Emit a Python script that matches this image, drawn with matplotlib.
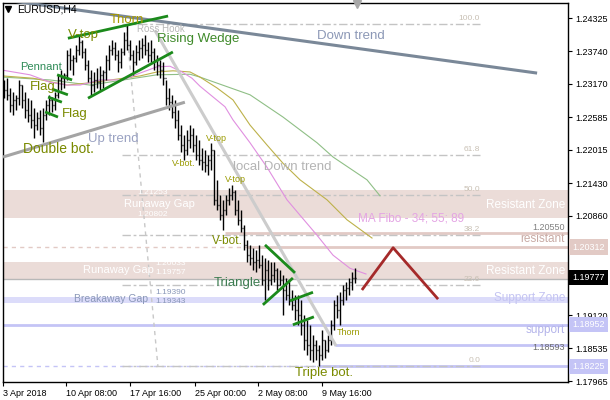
import matplotlib
matplotlib.use("Agg")
import matplotlib.pyplot as plt
import numpy as np

plt.rcParams['font.family'] = ['Liberation Sans', 'DejaVu Sans']

# ---------------- data (EURUSD H4) ----------------
highs = [1.2324, 1.2327, 1.2310, 1.2303, 1.2298, 1.2324, 1.2315, 1.2303, 1.2292, 1.2289,
         1.2275, 1.2268, 1.2271, 1.2275, 1.2289, 1.2298, 1.2294, 1.2303, 1.2333, 1.2341,
         1.2336, 1.2376, 1.2380, 1.2368, 1.2385, 1.2403, 1.2394, 1.2380, 1.2359, 1.2341,
         1.2338, 1.2345, 1.2348, 1.2341, 1.2368, 1.2385, 1.2394, 1.2390, 1.2376, 1.2380,
         1.2408, 1.2422, 1.2394, 1.2376, 1.2385, 1.2394, 1.2397, 1.2403, 1.2390, 1.2394,
         1.2380, 1.2368, 1.2359, 1.2355, 1.2324, 1.2310, 1.2298, 1.2289, 1.2271, 1.2245,
         1.2228, 1.2236, 1.2245, 1.2240, 1.2228, 1.2219, 1.2205, 1.2201, 1.2192, 1.2214,
         1.2201, 1.2149, 1.2122, 1.2114, 1.2122, 1.2135, 1.2140, 1.2131, 1.2114, 1.2096,
         1.2070, 1.2044, 1.2035, 1.2030, 1.2026, 1.2035, 1.2017, 1.2012, 1.2009, 1.2005,
         1.2005, 1.1994, 1.1991, 1.1982, 1.1977, 1.1973, 1.1956, 1.1947, 1.1947, 1.1938,
         1.1912, 1.1903, 1.1895, 1.1877, 1.1868, 1.1860, 1.1886, 1.1868, 1.1877, 1.1903,
         1.1938, 1.1947, 1.1952, 1.1965, 1.1970, 1.1977, 1.1987, 1.1994]
lows = [1.2292, 1.2289, 1.2268, 1.2262, 1.2271, 1.2280, 1.2275, 1.2257, 1.2250, 1.2240,
        1.2222, 1.2236, 1.2228, 1.2215, 1.2254, 1.2262, 1.2268, 1.2271, 1.2292, 1.2306,
        1.2310, 1.2324, 1.2341, 1.2333, 1.2355, 1.2368, 1.2362, 1.2341, 1.2320, 1.2298,
        1.2303, 1.2310, 1.2306, 1.2310, 1.2324, 1.2341, 1.2368, 1.2359, 1.2338, 1.2345,
        1.2368, 1.2376, 1.2359, 1.2333, 1.2350, 1.2359, 1.2362, 1.2368, 1.2355, 1.2355,
        1.2341, 1.2333, 1.2327, 1.2315, 1.2280, 1.2271, 1.2257, 1.2240, 1.2219, 1.2198,
        1.2184, 1.2192, 1.2205, 1.2198, 1.2184, 1.2175, 1.2166, 1.2163, 1.2157, 1.2166,
        1.2105, 1.2096, 1.2079, 1.2061, 1.2087, 1.2105, 1.2114, 1.2087, 1.2070, 1.2058,
        1.2026, 1.2005, 1.2000, 1.1991, 1.1987, 1.1994, 1.1965, 1.1938, 1.1956, 1.1965,
        1.1970, 1.1956, 1.1965, 1.1912, 1.1938, 1.1930, 1.1921, 1.1903, 1.1895, 1.1877,
        1.1851, 1.1842, 1.1833, 1.1830, 1.1833, 1.18225, 1.1833, 1.1837, 1.1847, 1.1860,
        1.1886, 1.1907, 1.1895, 1.1930, 1.1938, 1.1947, 1.1956, 1.1968]
closes = [1.2306, 1.2298, 1.2280, 1.2289, 1.2292, 1.2315, 1.2289, 1.2271, 1.2262, 1.2254,
          1.2245, 1.2257, 1.2240, 1.2262, 1.2280, 1.2289, 1.2280, 1.2298, 1.2324, 1.2327,
          1.2333, 1.2368, 1.2359, 1.2362, 1.2376, 1.2390, 1.2373, 1.2350, 1.2327, 1.2315,
          1.2324, 1.2320, 1.2333, 1.2338, 1.2359, 1.2376, 1.2380, 1.2368, 1.2355, 1.2373,
          1.2394, 1.2385, 1.2368, 1.2355, 1.2373, 1.2380, 1.2385, 1.2376, 1.2368, 1.2373,
          1.2359, 1.2350, 1.2341, 1.2327, 1.2292, 1.2285, 1.2268, 1.2254, 1.2228, 1.2210,
          1.2201, 1.2219, 1.2228, 1.2210, 1.2192, 1.2184, 1.2180, 1.2175, 1.2184, 1.2201,
          1.2114, 1.2105, 1.2087, 1.2096, 1.2114, 1.2122, 1.2128, 1.2096, 1.2079, 1.2065,
          1.2035, 1.2017, 1.2012, 1.2005, 1.2009, 1.2000, 1.1973, 1.1991, 1.1973, 1.1982,
          1.1991, 1.1965, 1.1973, 1.1956, 1.1947, 1.1938, 1.1930, 1.1921, 1.1912, 1.1895,
          1.1868, 1.1860, 1.1851, 1.1860, 1.1851, 1.1842, 1.1868, 1.1851, 1.1868, 1.1895,
          1.1930, 1.1921, 1.1938, 1.1956, 1.1959, 1.1970, 1.1977, 1.19777]
first_open = 1.2315
opens = [first_open] + closes[:-1]

# moving averages (MA Fibo 34 / 55 / 89), read at sampled bars
ma34_x = [-0.33, 8.67, 15.33, 21, 25.33, 32, 39.67, 45.33, 51, 55.33, 59.33, 62.67, 65.33,
          73.67, 76.33, 82, 87.67, 94.33, 98.67, 104.33, 109.67, 115.33, 120.67]
ma34 = [1.2341, 1.2333, 1.2320, 1.2315, 1.2315, 1.2324, 1.2324, 1.2336, 1.2347, 1.2348, 1.2338,
        1.2327, 1.2313, 1.2277, 1.2254, 1.2214, 1.2171, 1.2114, 1.2087, 1.2052, 1.2017, 1.1994,
        1.1984]
ma55_x = [-0.33, 9.67, 21, 28.67, 45.33, 51, 56.33, 62, 65.33, 71, 76.33, 82, 87.67, 93,
          98.67, 107.67, 114.33, 122.67]
ma55 = [1.2331, 1.2327, 1.2315, 1.2319, 1.2331, 1.2338, 1.2340, 1.2338, 1.2329, 1.2310, 1.2289,
        1.2245, 1.2210, 1.2178, 1.2149, 1.2114, 1.2079, 1.2047]
ma89_x = [-0.33, 15.33, 28.67, 51, 62, 65.33, 82, 93, 104.33, 109.67, 121, 125.33]
ma89 = [1.2329, 1.2324, 1.2315, 1.2333, 1.2334, 1.2329, 1.2298, 1.2259, 1.2214, 1.2189,
        1.2149, 1.2121]

# drawn objects: (bar, price) anchors
down_trend = [(-1, 1.2465), (177.7, 1.2336)]
up_trend = [(-0.33, 1.2189), (60.3, 1.2285)]
local_down = [(50.3, 1.2411), (110.7, 1.1858)]
green_lines = [
    [(21.3, 1.2397), (54.7, 1.2436)],
    [(28.0, 1.2292), (56.3, 1.2373)],
    [(17.7, 1.2333), (22.7, 1.2324)],
    [(16.0, 1.2308), (21.3, 1.2298)],
    [(14.7, 1.2294), (19.3, 1.2285)],
    [(13.7, 1.2268), (18.0, 1.2259)],
    [(87.0, 1.2035), (97.0, 1.1986)],
    [(86.3, 1.1930), (96.3, 1.1977)],
    [(95.3, 1.1937), (103.0, 1.1952)],
    [(96.3, 1.1895), (103.3, 1.1909)],
]
projection = [(119.3, 1.1956), (129.7, 1.2030), (144.7, 1.1940)]

fib_high, fib_low = 1.2422, 1.18225
fib_anchor_x = [40.7, 51.3]
fib_ratios = [1.0, 0.618, 0.5, 0.382, 0.236, 0.0]
fib_labels = ['100.0', '61.8', '50.0', '38.2', '23.6', '0.0']

res_zone1 = (1.2083, 1.2132)
res_zone2 = (1.19757, 1.2005)
sup_zone = (1.1933, 1.1944)
lvl_20550 = 1.20550
lvl_20312 = 1.20312
lvl_18952 = 1.18952
lvl_18593 = 1.18593
lvl_18225 = 1.18225
last_price = 1.19777

yticks = [1.24325, 1.23740, 1.23170, 1.22585, 1.22015, 1.21430, 1.20860,
          1.19120, 1.18535, 1.17965]
xtick_pos = [-0.33, 20.67, 42, 63.67, 84.67, 106]
xtick_labels = ['3 Apr 2018', '10 Apr 08:00', '17 Apr 16:00', '25 Apr 00:00',
                '2 May 08:00', '9 May 16:00']

# ---------------- figure ----------------
fig = plt.figure(figsize=(6.1, 4.0), dpi=100)
ax = fig.add_axes([3 / 610, 18 / 400, 565 / 610, 379 / 400])
ax.set_xlim(-0.33, 188)
ax.set_ylim(1.17948, 1.24588)

ROSE = '#ebdcd8'
ROSE_LINE = '#e2cac5'
LAV = '#dcdcfa'
LAV_LINE = '#c4c4f6'

# zones
ax.axhspan(*res_zone1, color=ROSE, lw=0, zorder=0)
ax.axhspan(*res_zone2, color=ROSE, lw=0, zorder=0)
ax.axhspan(*sup_zone, color=LAV, lw=0, zorder=0)

# horizontal levels
ax.axhline(res_zone2[0], color='#b8b8b8', lw=1, zorder=1)
ax.hlines(lvl_20550, 73.7, 188, color=ROSE_LINE, lw=2, zorder=1)
ax.hlines(lvl_20312, -0.33, 81, color=ROSE_LINE, lw=1, linestyles=(0, (3, 3)), zorder=1)
ax.hlines(lvl_20312, 81, 188, color=ROSE_LINE, lw=2, zorder=1)
ax.axhline(lvl_18952, color=LAV_LINE, lw=2, zorder=1)
ax.hlines(lvl_18593, 110.3, 188, color=LAV_LINE, lw=2, zorder=1)
ax.hlines(lvl_18225, -0.33, 105, color=LAV_LINE, lw=1, linestyles=(0, (3, 3)), zorder=1)
ax.hlines(lvl_18225, 105, 188, color=LAV_LINE, lw=2, zorder=1)

# fibonacci
fx0, fx1 = 39.3, 158.7
for r, lab in zip(fib_ratios, fib_labels):
    lv = fib_low + r * (fib_high - fib_low)
    ax.hlines(lv, fx0, fx1, color='#c4c4c4', lw=1, linestyles=(0, (6, 2, 2, 2)), zorder=1)
    ax.annotate(lab, xy=(fx1, lv), xytext=(0, 4), textcoords='offset points',
                ha='right', va='center', fontsize=6, color='#c8c0b4', zorder=2)
ax.plot(fib_anchor_x, [fib_high, fib_low], color='#c8c8c8', lw=1,
        linestyle=(0, (3, 3)), zorder=1)

# moving averages
ax.plot(ma89_x, ma89, color='#8fbf86', lw=0.8, zorder=2)
ax.plot(ma55_x, ma55, color='#bdb14a', lw=0.8, zorder=2)
ax.plot(ma34_x, ma34, color='#e08fe0', lw=0.8, zorder=2)

# OHLC bars
xs = np.arange(len(highs))
ax.vlines(xs, lows, highs, color='black', lw=1, zorder=3)
ax.hlines(opens, xs - 0.45, xs, color='black', lw=1, zorder=3)
ax.hlines(closes, xs, xs + 0.45, color='black', lw=1, zorder=3)

# trend lines
def seg(pts, **kw):
    ax.plot([p[0] for p in pts], [p[1] for p in pts], solid_capstyle='butt', **kw)

seg(down_trend, color='#7a8898', lw=2.2, zorder=4)
seg(up_trend, color='#a4a4a4', lw=2.2, zorder=4)
seg(local_down, color='#cccccc', lw=2.2, zorder=4)
for g in green_lines:
    seg(g, color='#1b8a1b', lw=2, zorder=4)
seg(projection, color='#a52a2a', lw=2, zorder=4)

# ---------------- texts ----------------
OLIVE = '#7a8a00'
GOLD = '#a89a00'
GRN = '#3f8a2a'
SMALL = '#9a9a00'
tx = [
    ('Down trend', 104.3, 1.2401, '#8c98b6', 9.5),
    ('Up trend', 28.0, 1.2221, '#9aa2c2', 9.5),
    ('local Down trend', 76.3, 1.2172, '#b4b4b4', 9.5),
    ('MA Fibo - 34; 55; 89', 118.0, 1.2082, '#e4a4e4', 8.5),
    ('V-top', 21.3, 1.2403, OLIVE, 9.5),
    ('Thorn', 35.3, 1.2429, GOLD, 9.5),
    ('Ross Hook', 44.3, 1.2413, '#b8b8b8', 7),
    ('Rising Wedge', 51.0, 1.2396, GRN, 9.5),
    ('Pennant', 5.3, 1.2347, '#2e8b57', 8),
    ('Flag', 8.67, 1.2312, OLIVE, 9.5),
    ('Flag', 19.3, 1.2264, OLIVE, 9.5),
    ('Double bot.', 6.3, 1.2203, OLIVE, 10),
    ('V-bot.', 56.0, 1.2178, SMALL, 6.5),
    ('V-top', 67.3, 1.2222, SMALL, 6.5),
    ('V-top', 73.7, 1.2149, SMALL, 6.5),
    ('V-bot.', 69.3, 1.2042, OLIVE, 8.5),
    ('Triangle', 70.0, 1.1968, '#3c7c50', 9.5),
    ('Thorn', 111.0, 1.1881, SMALL, 6.5),
    ('Triple bot.', 97.0, 1.1811, OLIVE, 9.5),
]
for s, x, y, c, fs in tx:
    ax.text(x, y, s, color=c, fontsize=fs, ha='left', va='center', zorder=5)

# gap / zone labels
ax.text(63.7, 1.2107, 'Runaway Gap', color='white', fontsize=8, ha='right', va='center', zorder=5)
ax.text(44.3, 1.2126, '1.21253', color='white', fontsize=6, ha='left', va='center', zorder=5)
ax.text(44.3, 1.2089, '1.20802', color='white', fontsize=6, ha='left', va='center', zorder=5)
ax.text(50.0, 1.1991, 'Runaway Gap', color='white', fontsize=8, ha='right', va='center', zorder=5)
ax.text(50.6, 1.2002, '1.20033', color='white', fontsize=6, ha='left', va='center', zorder=5)
ax.text(50.6, 1.1986, '1.19757', color='white', fontsize=6, ha='left', va='center', zorder=5)
ax.text(48.0, 1.1941, 'Breakaway Gap', color='#8a98b8', fontsize=7.5, ha='right', va='center', zorder=5)
ax.text(50.6, 1.1952, '1.19390', color='#8a98b8', fontsize=6, ha='left', va='center', zorder=5)
ax.text(50.6, 1.1936, '1.19343', color='#8a98b8', fontsize=6, ha='left', va='center', zorder=5)
ax.text(187, 1.2105, 'Resistant Zone', color='white', fontsize=8.5, ha='right', va='center', zorder=5)
ax.text(187, 1.1989, 'Resistant Zone', color='white', fontsize=8.5, ha='right', va='center', zorder=5)
ax.text(187, 1.2045, 'resistant', color='#c8aaa4', fontsize=8.5, ha='right', va='center', zorder=5)
ax.text(187, 1.2065, '1.20550', color='#808080', fontsize=6.5, ha='right', va='center', zorder=5)
ax.text(187, 1.1942, 'Support Zone', color='#c4c4f2', fontsize=8.5, ha='right', va='center', zorder=5)
ax.text(187, 1.1886, 'support', color='#b4b4ea', fontsize=8.5, ha='right', va='center', zorder=5)
ax.text(187, 1.1856, '1.18593', color='#6c6c6c', fontsize=6.5, ha='right', va='center', zorder=5)

# header
ax.plot([0.0095], [0.984], marker='v', ms=4, color='black', transform=ax.transAxes,
        clip_on=False, zorder=6)
ax.text(0.025, 0.984, 'EURUSD,H4', transform=ax.transAxes, fontsize=7.5, color='black',
        ha='left', va='center', zorder=6)
ax.plot([0.626], [0.997], marker='v', ms=6, color='#a8a8a8', transform=ax.transAxes,
        clip_on=False, zorder=6)

# axes styling
for sp in ax.spines.values():
    sp.set_color('black')
    sp.set_linewidth(1)
ax.yaxis.tick_right()
ax.set_yticks(yticks)
ax.set_yticklabels([f'{v:.5f}' for v in yticks])
ax.tick_params(axis='y', labelsize=6.5, length=3, pad=2, colors='black')
ax.set_xticks(xtick_pos)
ax.set_xticklabels(xtick_labels)
for lab in ax.get_xticklabels():
    lab.set_ha('left')
ax.tick_params(axis='x', labelsize=6.5, length=3, pad=2, colors='black')

# highlighted price labels
for val, fc in [(lvl_20312, '#e2cac5'), (last_price, 'black'), (lvl_18952, '#c4c4f6'),
                (lvl_18225, '#c4c4f6')]:
    ax.annotate(f'{val:.5f}', xy=(1, val), xycoords=('axes fraction', 'data'),
                xytext=(3.2, 0), textcoords='offset points', ha='left', va='center',
                fontsize=6.5, color='white', annotation_clip=False, zorder=10,
                bbox=dict(boxstyle='square,pad=0.35', fc=fc, ec='none'))

fig.savefig('out.png', dpi=100)
